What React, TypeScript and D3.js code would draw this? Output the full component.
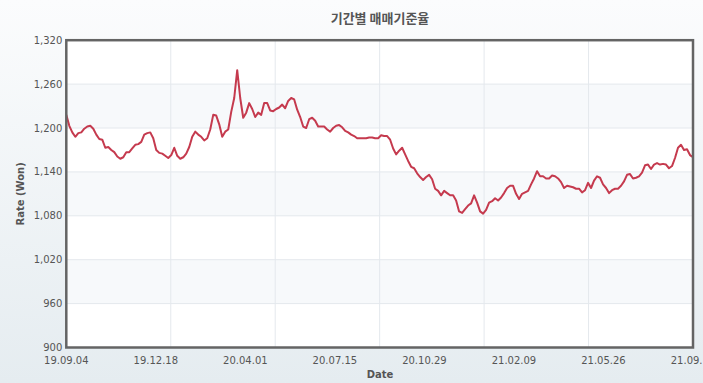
import React from 'react';
import * as d3 from 'd3';

const chartTitle = '기간별 매매기준율';
const xTitle = 'Date';
const yTitle = 'Rate (Won)';
const xTickLabels = ['19.09.04', '19.12.18', '20.04.01', '20.07.15', '20.10.29', '21.02.09', '21.05.26', '21.09.10'];
const yTickValues = [900, 960, 1020, 1080, 1140, 1200, 1260, 1320];

const rates2019 = [
  1218, 1203, 1194, 1188, 1193, 1194, 1199, 1202, 1203, 1199,
  1191, 1185, 1184, 1173, 1174, 1170, 1167, 1161, 1158, 1160,
  1167, 1167, 1172, 1177, 1178, 1181, 1191, 1193, 1194, 1186,
  1170, 1166, 1165, 1162, 1159, 1163, 1173, 1162, 1158, 1160,
];
const rates2020 = [
  1165, 1174, 1188, 1195, 1191, 1188, 1183, 1186, 1198, 1218,
  1217, 1205, 1188, 1195, 1198, 1222, 1241, 1279, 1241, 1214,
  1221, 1234, 1226, 1215, 1221, 1218, 1234, 1234, 1224, 1223,
  1226, 1228, 1232, 1227, 1237, 1241, 1239, 1225, 1215, 1202,
  1200, 1212, 1214, 1210, 1202, 1202, 1202, 1198, 1195, 1200,
  1203, 1204, 1201, 1196, 1194, 1191, 1189, 1186, 1186, 1186,
  1186, 1187, 1187, 1186, 1186, 1190, 1189, 1189, 1184, 1172,
  1164, 1169, 1173, 1164, 1155, 1147, 1145, 1138, 1133, 1129,
  1133, 1136, 1130, 1117, 1114, 1108, 1114, 1111, 1108, 1108,
  1101, 1086, 1084, 1089, 1094, 1097, 1108, 1098, 1086, 1083,
];
const rates2021 = [
  1088, 1098, 1100, 1104, 1101, 1105, 1111, 1118, 1121, 1121,
  1110, 1103, 1110, 1112, 1114, 1123, 1131, 1141, 1134, 1134,
  1131, 1131, 1135, 1134, 1131, 1126, 1118, 1121, 1120, 1119,
  1117, 1117, 1112, 1115, 1125, 1118, 1128, 1134, 1132, 1123,
  1118, 1111, 1115, 1117, 1117, 1121, 1127, 1136, 1137, 1131,
  1132, 1134, 1139, 1149, 1150, 1144, 1150, 1152, 1150, 1151,
  1150, 1145, 1148, 1159, 1173, 1177, 1170, 1171, 1163, 1160,
];
const rates = [...rates2019, ...rates2020, ...rates2021];

export default function App() {
  const W = 703;
  const H = 383;
  const left = 66.3;
  const right = 693;
  const top = 40.2;
  const bottom = 347.5;
  const n = rates.length - 1;

  const x = d3.scaleLinear().domain([0, n]).range([left, right]);
  const y = d3.scaleLinear().domain([900, 1320]).range([bottom, top]);
  const line = d3.line<number>().x((_, i) => x(i)).y((d) => y(d));

  const labelIdx = xTickLabels.map((_, i) => (i * n) / (xTickLabels.length - 1));
  const vGrid = d3.range(7).map((j) => (j * n) / 6);
  const tickFont = "'DejaVu Sans', Verdana, sans-serif";

  return (
    <svg width={W} height={H} style={{ position: 'absolute', left: 0, top: 0, display: 'block' }}>
      <defs>
        <linearGradient id="bg" x1="0" y1="0" x2="0" y2="1">
          <stop offset="0" stopColor="#fbfcfd" />
          <stop offset="1" stopColor="#e5ecf0" />
        </linearGradient>
        <clipPath id="plotClip">
          <rect x={left} y={top} width={right - left} height={bottom - top} />
        </clipPath>
      </defs>
      <rect x={0} y={0} width={W} height={H} fill="url(#bg)" />
      <rect x={left} y={top} width={right - left} height={bottom - top} fill="#ffffff" />
      {yTickValues.slice(0, -1).map((v, i) =>
        i % 2 === 1 ? (
          <rect key={'band' + v} x={left} y={y(yTickValues[i + 1])} width={right - left}
            height={y(v) - y(yTickValues[i + 1])} fill="#f7f9fb" />
        ) : null
      )}
      {yTickValues.map((v) => (
        <line key={'hg' + v} x1={left} x2={right} y1={y(v)} y2={y(v)} stroke="#e4e8ed" strokeWidth={1} />
      ))}
      {vGrid.map((g, j) => (
        <line key={'vg' + j} x1={x(g)} x2={x(g)} y1={top} y2={bottom} stroke="#e4e8ed" strokeWidth={1} />
      ))}
      <path d={line(rates) || ''} fill="none" stroke="#c53a4e" strokeWidth={2} strokeLinejoin="round"
        clipPath="url(#plotClip)" />
      <rect x={left} y={top} width={right - left} height={bottom - top} fill="none" stroke="#646464" strokeWidth={2.5} />
      {yTickValues.map((v) => (
        <text key={'yl' + v} x={left - 4} y={y(v)} dy="0.35em" textAnchor="end" fontFamily={tickFont}
          fontSize={10} fill="#555">{d3.format(',')(v)}</text>
      ))}
      {xTickLabels.map((lab, i) => (
        <text key={'xl' + lab} x={x(labelIdx[i])} y={364} textAnchor="middle" fontFamily={tickFont}
          fontSize={10} fill="#555">{lab}</text>
      ))}
      <text x={380} y={378} textAnchor="middle" fontFamily={tickFont} fontSize={10} fontWeight="bold" fill="#555">{xTitle}</text>
      <text transform={`translate(24,${(top + bottom) / 2}) rotate(-90)`} textAnchor="middle" fontFamily={tickFont}
        fontSize={10} fontWeight="bold" fill="#555">{yTitle}</text>
      <text x={380} y={23} textAnchor="middle" fontFamily="'Noto Sans CJK KR', sans-serif" fontSize={13}
        fontWeight="bold" fill="#555">{chartTitle}</text>
    </svg>
  );
}
